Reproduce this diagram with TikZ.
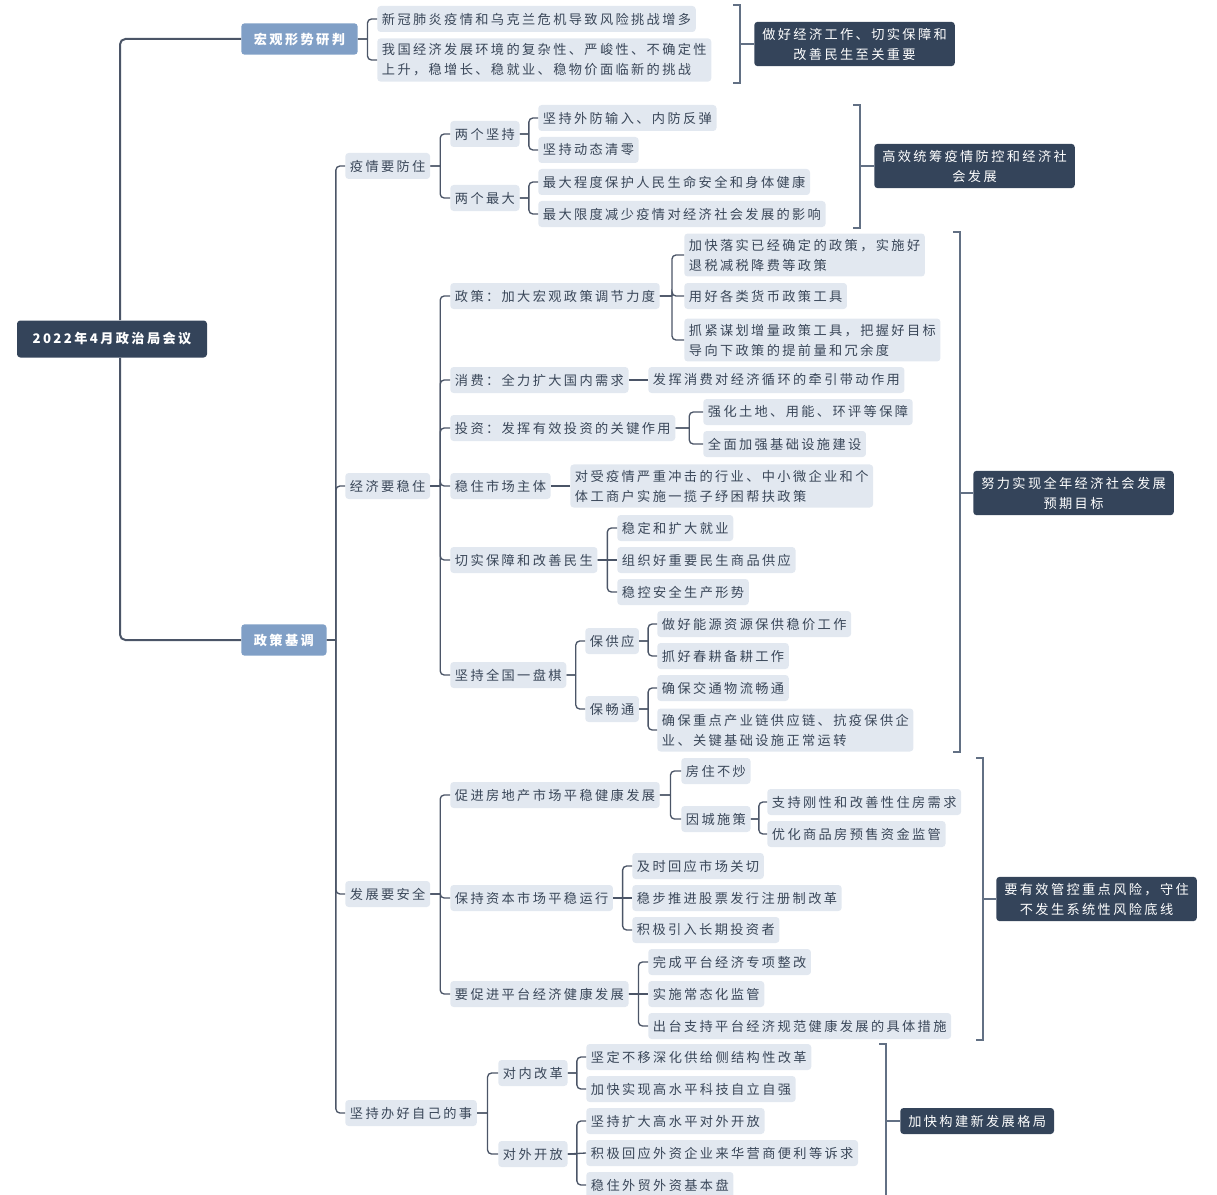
\documentclass[tikz,border=0pt]{standalone}
\usepackage{fontspec}
\setmainfont{Noto Sans CJK SC}[LetterSpace=18]
\usetikzlibrary{calc}
\definecolor{ink}{HTML}{3A4759}
\definecolor{navy}{HTML}{34445A}
\definecolor{steel}{HTML}{809FC6}
\definecolor{mist}{HTML}{E2E8F0}
\definecolor{wire}{HTML}{4B5567}
\definecolor{brk}{HTML}{627084}
\tikzset{
  root/.style={fill=navy, text=white, rounded corners=2.5pt, font=\fontsize{9.9}{15}\selectfont\bfseries,
               minimum width=142.5pt, minimum height=27.75pt, inner sep=3pt},
  topic/.style={fill=steel, text=white, rounded corners=2.5pt, font=\fontsize{9.9}{15}\selectfont\bfseries,
                anchor=west, inner xsep=9.5pt, minimum height=23.5pt},
  leaf/.style={fill=mist, text=ink, rounded corners=2.5pt, font=\fontsize{9.9}{15}\selectfont,
               anchor=west, align=left, inner xsep=3.5pt, inner ysep=4pt, minimum height=19.5pt},
  summ/.style={fill=navy, text=white, rounded corners=2.5pt, font=\fontsize{9.9}{15}\selectfont,
               anchor=west, align=center, inner xsep=6pt, inner ysep=4.5pt, minimum height=19.5pt},
  trunk/.style={draw=wire, line width=1.5pt, rounded corners=4pt},
  % ---- tree fan-out: stub to the midpoint, then a rounded elbow ----
  branch/.style={draw=wire, line width=1pt, rounded corners=3pt,
    to path={(\tikztostart) -- ($(\tikztostart)!.5!(\tikztostart -| \tikztotarget)$)
             ($(\tikztostart)!.5!(\tikztostart -| \tikztotarget)$) |- (\tikztotarget)}},
  link/.style={draw=wire, line width=1pt},
  brace/.style={draw=brk, line width=1pt},
}
\newcommand{\grpbrace}[3]{%
  \draw[brace] ([xshift=-5pt]#1) -- (#1) -- (#2) -- ([xshift=-5pt]#2);
  \draw[brace] (#1 |- #3) -- (#3.west);}

\begin{document}
\begin{tikzpicture}[x=0.75pt, y=-0.75pt]
\useasboundingbox (0,0) rectangle (1217,1195);
% level 0
\node[root] (meet) at (112,339) {2022年4月政治局会议};
% level 1
\node[topic] (macro) at (241,39) {宏观形势研判};
\node[topic] (tone) at (241,640) {政策基调};
\draw[trunk] ([xshift=6pt]meet.north) |- (macro.west);
\draw[trunk] ([xshift=6pt]meet.south) |- (tone.west);
% macro situation
\node[leaf] (m1) at (377,19) {新冠肺炎疫情和乌克兰危机导致风险挑战增多};
\node[leaf] (m2) at (377,60) {我国经济发展环境的复杂性、严峻性、不确定性\\上升，稳增长、稳就业、稳物价面临新的挑战};
\foreach \c in {m1,m2}{ \draw[branch] (macro.east) to (\c.west); }
% level 2
\node[leaf] (epi) at (345,166) {疫情要防住};
\node[leaf] (econ) at (345,486) {经济要稳住};
\node[leaf] (safe) at (345,894) {发展要安全};
\node[leaf] (self) at (345,1113) {坚持办好自己的事};
\foreach \c in {epi,econ,safe,self}{ \draw[branch] (tone.east) to (\c.west); }
% epidemic
\node[leaf] (e1) at (450,134) {两个坚持};
\node[leaf] (e2) at (450,198) {两个最大};
\node[leaf] (e11) at (538,118) {坚持外防输入、内防反弹};
\node[leaf] (e12) at (538,150) {坚持动态清零};
\node[leaf] (e21) at (538,182) {最大程度保护人民生命安全和身体健康};
\node[leaf] (e22) at (538,214) {最大限度减少疫情对经济社会发展的影响};
\foreach \c in {e1,e2}{ \draw[branch] (epi.east) to (\c.west); }
\foreach \c in {e11,e12}{ \draw[branch] (e1.east) to (\c.west); }
\foreach \c in {e21,e22}{ \draw[branch] (e2.east) to (\c.west); }
% economy
\node[leaf] (c1) at (450,296) {政策：加大宏观政策调节力度};
\node[leaf] (c2) at (450,380) {消费：全力扩大国内需求};
\node[leaf] (c3) at (450,428) {投资：发挥有效投资的关键作用};
\node[leaf] (c4) at (450,486) {稳住市场主体};
\node[leaf] (c5) at (450,560) {切实保障和改善民生};
\node[leaf] (c6) at (450,675) {坚持全国一盘棋};
\foreach \c in {c1,c2,c3,c4,c5,c6}{ \draw[branch] (econ.east) to (\c.west); }
\node[leaf] (c11) at (684,255) {加快落实已经确定的政策，实施好\\退税减税降费等政策};
\node[leaf] (c12) at (684,296) {用好各类货币政策工具};
\node[leaf] (c13) at (684,340) {抓紧谋划增量政策工具，把握好目标\\导向下政策的提前量和冗余度};
\foreach \c in {c11,c12,c13}{ \draw[branch] (c1.east) to (\c.west); }
\node[leaf] (c21) at (648,380) {发挥消费对经济循环的牵引带动作用};
\draw[link] (c2.east) -- (c21.west);
\node[leaf] (c31) at (703,412) {强化土地、用能、环评等保障};
\node[leaf] (c32) at (703,444) {全面加强基础设施建设};
\foreach \c in {c31,c32}{ \draw[branch] (c3.east) to (\c.west); }
\node[leaf] (c41) at (570,486) {对受疫情严重冲击的行业、中小微企业和个\\体工商户实施一揽子纾困帮扶政策};
\draw[link] (c4.east) -- (c41.west);
\node[leaf] (c51) at (617,528) {稳定和扩大就业};
\node[leaf] (c52) at (617,560) {组织好重要民生商品供应};
\node[leaf] (c53) at (617,592) {稳控安全生产形势};
\foreach \c in {c51,c53}{ \draw[branch] (c5.east) to (\c.west); }
\draw[link] (c5.east) -- (c52.west);
\node[leaf] (c61) at (585,641) {保供应};
\node[leaf] (c62) at (585,709) {保畅通};
\foreach \c in {c61,c62}{ \draw[branch] (c6.east) to (\c.west); }
\node[leaf] (c611) at (657,624) {做好能源资源保供稳价工作};
\node[leaf] (c612) at (657,656) {抓好春耕备耕工作};
\node[leaf] (c621) at (657,688) {确保交通物流畅通};
\node[leaf] (c622) at (657,730) {确保重点产业链供应链、抗疫保供企\\业、关键基础设施正常运转};
\foreach \c in {c611,c612}{ \draw[branch] (c61.east) to (\c.west); }
\foreach \c in {c621,c622}{ \draw[branch] (c62.east) to (\c.west); }
% security
\node[leaf] (s1) at (450,795) {促进房地产市场平稳健康发展};
\node[leaf] (s2) at (450,898) {保持资本市场平稳运行};
\node[leaf] (s3) at (450,994) {要促进平台经济健康发展};
\foreach \c in {s1,s2,s3}{ \draw[branch] (safe.east) to (\c.west); }
\node[leaf] (s11) at (681,771) {房住不炒};
\node[leaf] (s12) at (681,819) {因城施策};
\foreach \c in {s11,s12}{ \draw[branch] (s1.east) to (\c.west); }
\node[leaf] (s121) at (767,802) {支持刚性和改善性住房需求};
\node[leaf] (s122) at (767,834) {优化商品房预售资金监管};
\foreach \c in {s121,s122}{ \draw[branch] (s12.east) to (\c.west); }
\node[leaf] (s21) at (632,866) {及时回应市场关切};
\node[leaf] (s22) at (632,898) {稳步推进股票发行注册制改革};
\node[leaf] (s23) at (632,930) {积极引入长期投资者};
\foreach \c in {s21,s23}{ \draw[branch] (s2.east) to (\c.west); }
\draw[link] (s2.east) -- (s22.west);
\node[leaf] (s31) at (648,962) {完成平台经济专项整改};
\node[leaf] (s32) at (648,994) {实施常态化监管};
\node[leaf] (s33) at (648,1026) {出台支持平台经济规范健康发展的具体措施};
\foreach \c in {s31,s33}{ \draw[branch] (s3.east) to (\c.west); }
\draw[link] (s3.east) -- (s32.west);
% own affairs
\node[leaf] (f1) at (498,1073) {对内改革};
\node[leaf] (f2) at (498,1154) {对外开放};
\foreach \c in {f1,f2}{ \draw[branch] (self.east) to (\c.west); }
\node[leaf] (f11) at (586,1057) {坚定不移深化供给侧结构性改革};
\node[leaf] (f12) at (586,1089) {加快实现高水平科技自立自强};
\node[leaf] (f21) at (586,1121) {坚持扩大高水平对外开放};
\node[leaf] (f22) at (586,1153) {积极回应外资企业来华营商便利等诉求};
\node[leaf] (f23) at (586,1185) {稳住外贸外资基本盘};
\foreach \c in {f11,f12}{ \draw[branch] (f1.east) to (\c.west); }
\foreach \c in {f21,f23}{ \draw[branch] (f2.east) to (\c.west); }
\draw[link] (f2.east) -- (f22.west);
% summaries
\node[summ] (g1) at (754,44) {做好经济工作、切实保障和\\改善民生至关重要};
\node[summ] (g2) at (874,166) {高效统筹疫情防控和经济社\\会发展};
\node[summ] (g3) at (973,493) {努力实现全年经济社会发展\\预期目标};
\node[summ] (g4) at (996,899) {要有效管控重点风险，守住\\不发生系统性风险底线};
\node[summ] (g5) at (900,1121) {加快构建新发展格局};
\coordinate (g1a) at (740,5);    \coordinate (g1b) at (740,83);
\coordinate (g2a) at (860,105);  \coordinate (g2b) at (860,228);
\coordinate (g3a) at (960,232);  \coordinate (g3b) at (960,752);
\coordinate (g4a) at (983,758);  \coordinate (g4b) at (983,1040);
\coordinate (g5a) at (886,1044); \coordinate (g5b) at (886,1215);
\grpbrace{g1a}{g1b}{g1}
\grpbrace{g2a}{g2b}{g2}
\grpbrace{g3a}{g3b}{g3}
\grpbrace{g4a}{g4b}{g4}
\grpbrace{g5a}{g5b}{g5}
\end{tikzpicture}
\end{document}
